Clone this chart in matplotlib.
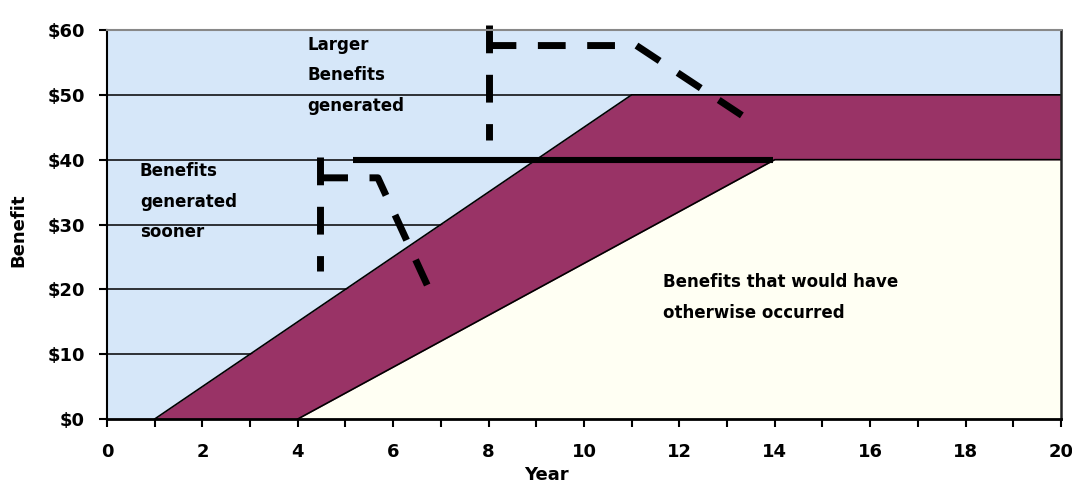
import matplotlib.pyplot as plt

# Data
years_faster = [1, 11, 20]        # benefits generated sooner / larger
benefit_faster = [0, 50, 50]
years_base = [4, 14, 20]          # benefits that would have otherwise occurred
benefit_base = [0, 40, 40]

x_ticks = list(range(0, 21))
x_tick_labels = [str(v) if v % 2 == 0 else "" for v in x_ticks]
y_ticks = [0, 10, 20, 30, 40, 50, 60]
y_tick_labels = ["$0", "$10", "$20", "$30", "$40", "$50", "$60"]

# annotation paths (year, benefit)
sooner_vert_x = [4.47, 4.47]
sooner_vert_y = [40.4, 22.8]
sooner_path_x = [4.47, 5.68, 6.73]
sooner_path_y = [37.2, 37.2, 20.4]
larger_vert_x = [8.0, 8.0]
larger_vert_y = [60.8, 43.0]
larger_path_x = [8.0, 11.1, 13.4]
larger_path_y = [57.6, 57.6, 46.4]
level_x = [5.16, 13.96]
level_y = [40, 40]

blue = "#d6e7f9"
purple = "#993366"
cream = "#fffff3"

plt.rcParams['font.family'] = ['DejaVu Sans']

fig = plt.figure(figsize=(10.72, 4.87), dpi=100)
ax = fig.add_axes([0.0998, 0.1396, 0.8899, 0.7988])
ax.set_facecolor(blue)

# gridlines behind the areas
for yv in y_ticks[1:-1]:
    ax.axhline(yv, color="black", lw=1.1, zorder=1)

# areas
ax.fill_between(years_faster, benefit_faster, 0, color=purple, lw=0, zorder=2)
ax.fill_between(years_base, benefit_base, 0, color=cream, lw=0, zorder=3)
ax.plot(years_faster, benefit_faster, color="black", lw=1.2, zorder=4)
ax.plot(years_base, benefit_base, color="black", lw=1.2, zorder=4)

# annotation lines
dash_kw = dict(color="black", lw=5, dashes=(4, 3.1), zorder=6, clip_on=False)
ax.plot(sooner_vert_x, sooner_vert_y, **dash_kw)
ax.plot(sooner_path_x, sooner_path_y, **dash_kw)
ax.plot(larger_vert_x, larger_vert_y, **dash_kw)
ax.plot(larger_path_x, larger_path_y, **dash_kw)
ax.plot(level_x, level_y, color="black", lw=4.4, solid_capstyle="butt", zorder=7)

# texts
txt_kw = dict(fontsize=12, fontweight="bold", linespacing=1.9, va="center", ha="left", zorder=8)
ax.text(4.2, 53, "Larger\nBenefits\ngenerated", **txt_kw)
ax.text(0.69, 33.5, "Benefits\ngenerated\nsooner", **txt_kw)
ax.text(11.66, 18.7, "Benefits that would have\notherwise occurred", **txt_kw)

# axes
ax.set_xlim(0, 20)
ax.set_ylim(0, 60)
ax.set_xticks(x_ticks)
ax.set_xticklabels(x_tick_labels, fontsize=13, fontweight="bold")
ax.set_yticks(y_ticks)
ax.set_yticklabels(y_tick_labels, fontsize=13, fontweight="bold")
ax.tick_params(axis="x", direction="out", length=6, width=1.5, pad=11)
ax.tick_params(axis="y", direction="out", length=6, width=1.5, pad=10)

ax.set_xlabel("Year", fontsize=13, fontweight="bold")
ax.xaxis.set_label_coords(0.461, -0.122)
ax.set_ylabel("Benefit", fontsize=13, fontweight="bold")
ax.yaxis.set_label_coords(-0.083, 0.486)

ax.spines["left"].set_linewidth(1.5)
ax.spines["bottom"].set_linewidth(2)
ax.spines["top"].set_color("#888888")
ax.spines["top"].set_linewidth(1.5)
ax.spines["right"].set_color("#222222")
ax.spines["right"].set_linewidth(1.8)
for sp in ax.spines.values():
    sp.set_zorder(9)

fig.savefig("out.png", dpi=100)
